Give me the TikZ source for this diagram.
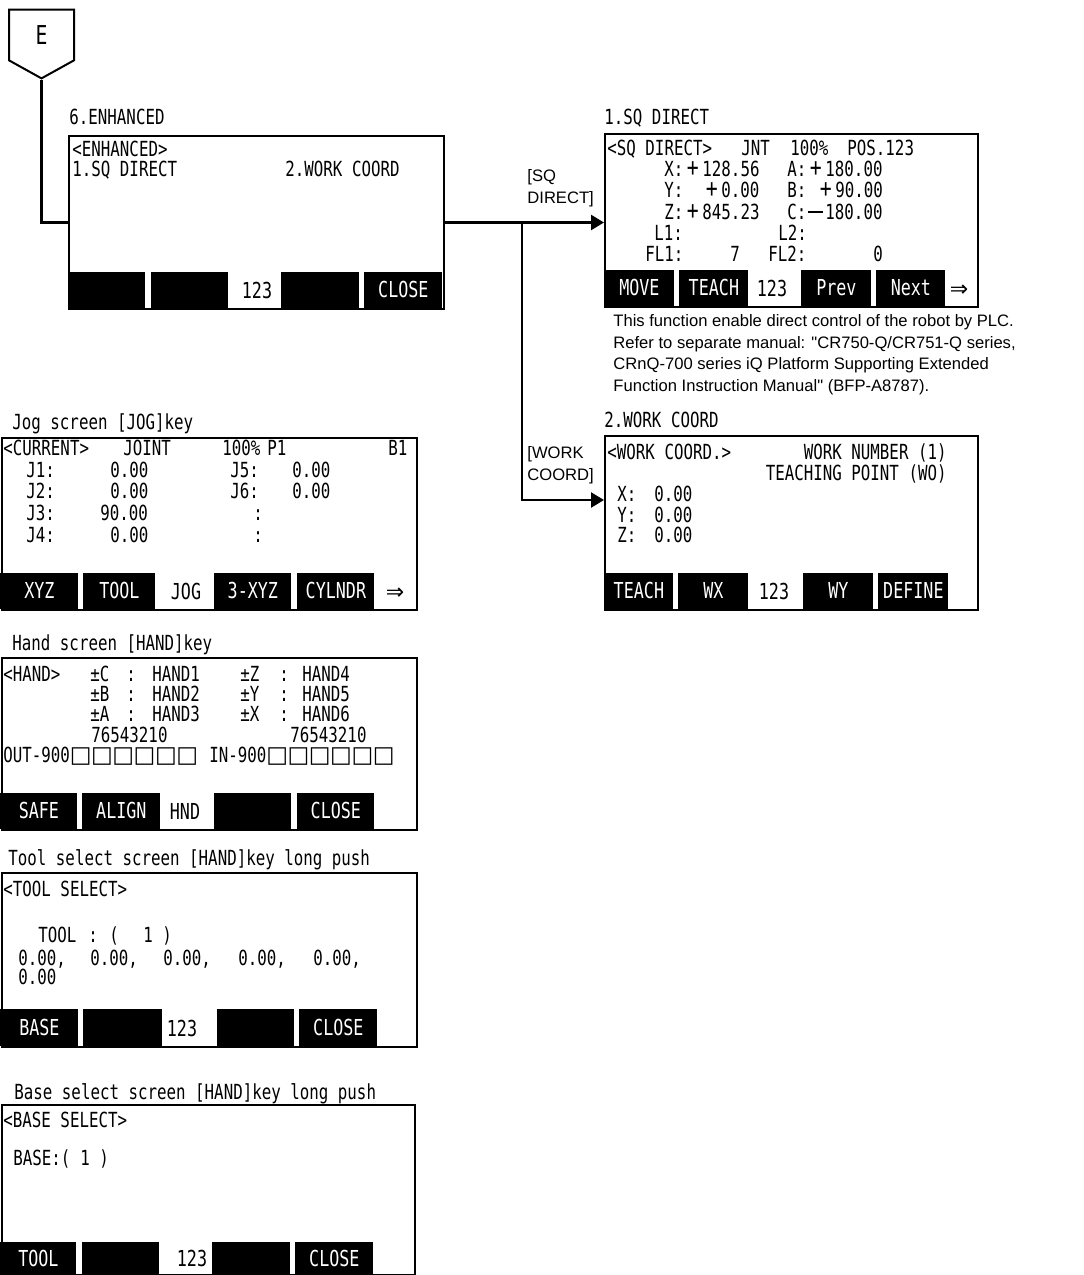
\documentclass[tikz,border=0pt]{standalone}
\usepackage{fontspec}
\setmainfont{Liberation Sans}[Ligatures=TeXOff]
\newfontfamily\lcdfont[FakeStretch=0.76]{DejaVu Sans Mono}
\newfontfamily\symfont{DejaVu Sans}
\usetikzlibrary{arrows.meta,positioning,shapes.symbols}
\newcommand\wplus{\makebox[9.5pt]{\fontsize{13}{13}\selectfont+}}
\newcommand\wminus{\makebox[9.5pt]{\rule[3.4pt]{7.5pt}{0.7pt}}}
\newcommand\bx{\makebox[10.65pt]{\symfont\fontsize{11.5}{11.5}\selectfont □}}
\newcommand\dto{{\symfont\fontsize{11}{11}\selectfont ⇒}}

\begin{document}
\begin{tikzpicture}[x=0.5pt,y=-0.5pt,>={Triangle[length=6.5pt,width=7.5pt]},
  scr/.style={draw,line width=1pt,anchor=north west,inner sep=0pt,minimum width=207.5pt,minimum height=86pt},
  key/.style={fill=black,text=white,anchor=south west,inner sep=0pt,minimum height=18pt,text height=8pt,text depth=0pt,font=\lcdfont\fontsize{11}{11}\selectfont},
  lcd/.style={anchor=west,inner sep=0pt,text height=7.6pt,text depth=0pt,font=\lcdfont\fontsize{10.4}{11}\selectfont},
  num/.style={lcd,anchor=center,text height=8pt,font=\lcdfont\fontsize{11}{11}\selectfont},
  lbl/.style={anchor=north west,inner sep=0pt,align=left,font=\fontsize{8.3}{10.8}\selectfont},
  line/.style={line width=1.2pt}]
\useasboundingbox (0,0) rectangle (1083,1275);

% off-page connector
\node[draw,line width=1pt,signal,signal to=south,signal pointer angle=122,minimum width=32.5pt,minimum height=27pt,inner sep=0pt,font=\lcdfont\fontsize{13}{13}\selectfont] (E) at (41.5,35) {E};

% enhanced menu
\node[lcd] (enhttl) at (69,117) {6.ENHANCED};
\node[scr,minimum width=187.5pt,minimum height=86.5pt] (enh) at (68,135) {};
\foreach \x/\y/\t [count=\i] in {72/149/{<ENHANCED>},72/169/{1.SQ DIRECT},285/169/{2.WORK COORD}}
  \node[lcd] (enht\i) at (\x,\y) {\t};
\foreach \a/\b/\t [count=\i] in {68/145/{},151/228/{},281/359/{},364/442/CLOSE}
  \node[key,minimum width={(\b-\a)*0.5pt}] (enhk\i) at (\a,308) {\t};
\node[num] (enh123) at (257,290) {123};

% SQ direct
\node[lcd] (sqttl) at (604,117) {1.SQ DIRECT};
\node[scr,minimum width=186.5pt,minimum height=86.5pt] (sq) at (604,133) {};
\foreach \x/\y/\t [count=\i] in {607/148/{<SQ DIRECT>},741/148/JNT,790/148/{100\%},847/148/{POS.123},
    664/169/{X:\wplus128.56},787/169/{A:\wplus180.00},
    664/190/{Y:},702/190/{\wplus0.00},787/190/{B:},816/190/{\wplus90.00},
    664/212/{Z:\wplus845.23},787/212/{C:\wminus180.00},
    654/233/{L1:},778/233/{L2:},
    645/254/{FL1:},730/254/7,768/254/{FL2:},873/254/0}
  \node[lcd] (sqt\i) at (\x,\y) {\t};
\foreach \a/\b/\t [count=\i] in {604/674/MOVE,679/748/TEACH,801/871/Prev,876/945/Next}
  \node[key,minimum width={(\b-\a)*0.5pt}] (sqk\i) at (\a,306) {\t};
\node[num] (sq123) at (772,288) {123};
\node[num] (sqmore) at (959,288) {\dto};
\node[lbl] (sqnote) at (613,314) {This function enable direct control of the robot by PLC.\\
  Refer to separate manual: "CR750-Q/CR751-Q series,\\
  CRnQ-700 series iQ Platform Supporting Extended\\
  Function Instruction Manual" (BFP-A8787).};

% work coord
\node[lcd] (wcttl) at (604,420) {2.WORK COORD};
\node[scr,minimum width=186.5pt,minimum height=87pt] (wc) at (604,435) {};
\foreach \x/\y/\t [count=\i] in {607/452/{<WORK COORD.>},617/494/{X:},654/494/{0.00},
    617/515/{Y:},654/515/{0.00},617/535/{Z:},654/535/{0.00}}
  \node[lcd] (wct\i) at (\x,\y) {\t};
\node[lcd,anchor=east] (wcnum) at (947,452) {WORK NUMBER (1)};
\node[lcd,anchor=east] (wcpt) at (947,473) {TEACHING POINT (WO)};
\foreach \a/\b/\t [count=\i] in {604/673/TEACH,678/748/WX,803/873/WY,878/948/DEFINE}
  \node[key,minimum width={(\b-\a)*0.5pt}] (wck\i) at (\a,609) {\t};
\node[num] (wc123) at (774,591) {123};

% connectors
\draw[line] (E.south) |- (enh.west);
\coordinate (fork) at (enh.east -| 522,0);
\coordinate (wcin) at (604,500);
\draw[line,->] (enh.east) -- (enh.east -| sq.west);
\draw[line,->] (fork) |- (wcin);
\node[lbl] (sqkey) at (527,169) {[SQ\\DIRECT]};
\node[lbl] (wckey) at (527,446) {[WORK\\COORD]};

% jog screen
\node[lcd] (jogttl) at (12,422) {Jog screen [JOG]key};
\node[scr] (jog) at (1,437) {};
\foreach \x/\y/\t [count=\i] in {3/448/{<CURRENT>},123/448/JOINT,222/448/{100\%},267/448/P1,388/448/B1,
    26/470/{J1:},110/470/{0.00},230/470/{J5:},292/470/{0.00},
    26/491/{J2:},110/491/{0.00},230/491/{J6:},292/491/{0.00},
    26/513/{J3:},100/513/{90.00},253/513/{:},
    26/535/{J4:},110/535/{0.00},253/535/{:}}
  \node[lcd] (jogt\i) at (\x,\y) {\t};
\foreach \a/\b/\t [count=\i] in {0/78/XYZ,83/155/TOOL,214/291/3-XYZ,297/374/CYLNDR}
  \node[key,minimum width={(\b-\a)*0.5pt}] (jogk\i) at (\a,609) {\t};
\node[num] (jogjog) at (186,591) {JOG};
\node[num] (jogmore) at (395,591) {\dto};

% hand screen
\node[lcd] (handttl) at (12,643) {Hand screen [HAND]key};
\node[scr] (hand) at (1,657) {};
\foreach \x/\y/\t [count=\i] in {3/674/{<HAND>},
    90/674/{±C},126/674/{:},152/674/HAND1,240/674/{±Z},279/674/{:},302/674/HAND4,
    90/694/{±B},126/694/{:},152/694/HAND2,240/694/{±Y},279/694/{:},302/694/HAND5,
    90/714/{±A},126/714/{:},152/714/HAND3,240/714/{±X},279/714/{:},302/714/HAND6,
    91/735/76543210,290/735/76543210,
    3/755/{OUT-900\bx\bx\bx\bx\bx\bx},209/755/{IN-900\bx\bx\bx\bx\bx\bx}}
  \node[lcd] (handt\i) at (\x,\y) {\t};
\foreach \a/\b/\t [count=\i] in {0/77/SAFE,82/160/ALIGN,214/291/{},297/374/CLOSE}
  \node[key,minimum width={(\b-\a)*0.5pt}] (handk\i) at (\a,829) {\t};
\node[num] (handhnd) at (185,811) {HND};

% tool select screen
\node[lcd] (toolttl) at (8,858) {Tool select screen [HAND]key long push};
\node[scr,minimum height=87pt] (tool) at (1,872) {};
\foreach \x/\y/\t [count=\i] in {3/889/{<TOOL SELECT>},38/935/TOOL,88/935/{:},109/935/{(},143/935/1,162/935/{)},
    18/958/{0.00,},90/958/{0.00,},163/958/{0.00,},238/958/{0.00,},313/958/{0.00,},18/977/{0.00}}
  \node[lcd] (toolt\i) at (\x,\y) {\t};
\foreach \a/\b/\t [count=\i] in {0/78/BASE,83/162/{},217/294/{},299/377/CLOSE}
  \node[key,minimum width={(\b-\a)*0.5pt},minimum height=18.5pt] (toolk\i) at (\a,1046) {\t};
\node[num] (tool123) at (182,1028) {123};

% base select screen
\node[lcd] (basettl) at (14,1092) {Base select screen [HAND]key long push};
\node[scr,minimum width=206.5pt,minimum height=85pt] (base) at (1,1104) {};
\foreach \x/\y/\t [count=\i] in {3/1120/{<BASE SELECT>},13/1158/{BASE:(},80/1158/1,99/1158/{)}}
  \node[lcd] (baset\i) at (\x,\y) {\t};
\foreach \a/\b/\t [count=\i] in {0/76/TOOL,82/159/{},212/290/{},295/373/CLOSE}
  \node[key,minimum width={(\b-\a)*0.5pt},minimum height=16.5pt] (basek\i) at (\a,1275) {\t};
\node[num] (base123) at (192,1258) {123};
\end{tikzpicture}
\end{document}
